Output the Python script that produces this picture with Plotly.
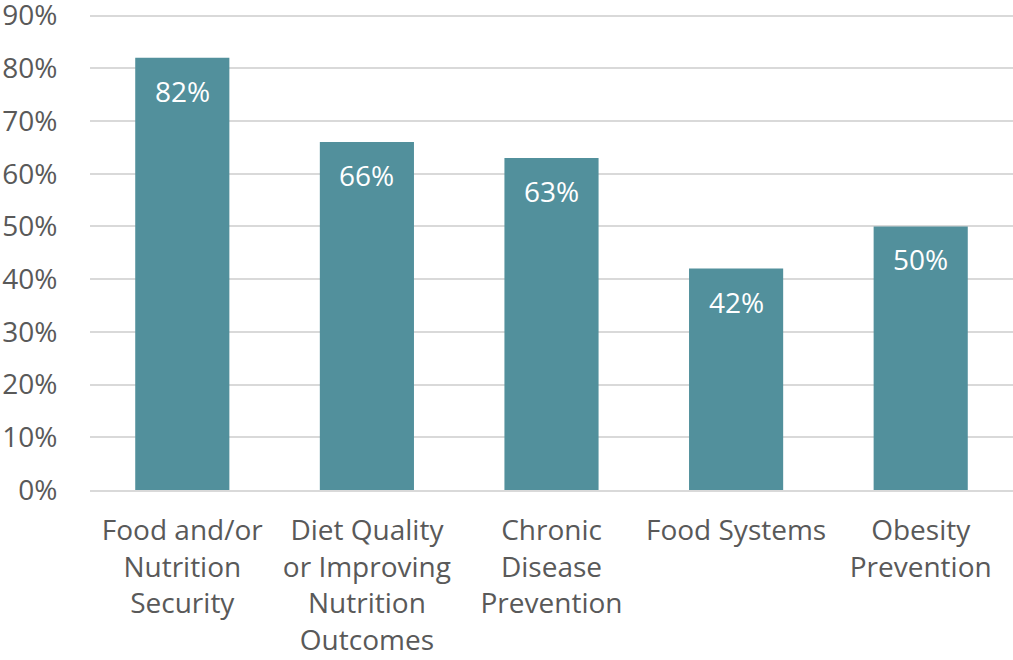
import plotly.graph_objects as go

categories = ["Food and/or<br>Nutrition<br>Security",
              "Diet Quality<br>or Improving<br>Nutrition<br>Outcomes",
              "Chronic<br>Disease<br>Prevention",
              "Food Systems",
              "Obesity<br>Prevention"]
values = [0.82, 0.66, 0.63, 0.42, 0.50]
labels = ["82%", "66%", "63%", "42%", "50%"]
tickvals = [0, 0.1, 0.2, 0.3, 0.4, 0.5, 0.6, 0.7, 0.8, 0.9]

FONT = "Open Sans, Liberation Sans, sans-serif"
GREY = "#595959"

fig = go.Figure(go.Bar(
    x=categories, y=values,
    marker=dict(color="#52909C", line=dict(width=0)),
    width=0.51,
))
for c, v, t in zip(categories, values, labels):
    fig.add_annotation(x=c, y=v, text=t, showarrow=False,
                       yanchor="middle", yshift=-33,
                       font=dict(color="white", size=28, family=FONT))
fig.update_layout(
    width=1013, height=680,
    margin=dict(l=90, r=0, t=34, b=170),
    plot_bgcolor="white", paper_bgcolor="white",
    showlegend=False,
    font=dict(family=FONT, color=GREY, size=28),
)
fig.update_yaxes(range=[0, 0.903], tickvals=tickvals, tickformat=".0%",
                 showgrid=True, gridcolor="#D9D9D9", gridwidth=1.5,
                 zeroline=False, showline=False, automargin=False,
                 ticks="outside", ticklen=26, tickcolor="rgba(0,0,0,0)",
                 tickfont=dict(size=28, color=GREY))
fig.update_xaxes(showline=True, linecolor="#D9D9D9", linewidth=1.5,
                 ticks="outside", ticklen=15, tickcolor="rgba(0,0,0,0)",
                 tickangle=0, automargin=False,
                 tickfont=dict(size=28, color=GREY))
fig.write_html("out.html", config={"displayModeBar": False},
               post_script="document.body.style.margin='0';document.body.style.marginTop='-20px';document.body.style.overflow='hidden';")
